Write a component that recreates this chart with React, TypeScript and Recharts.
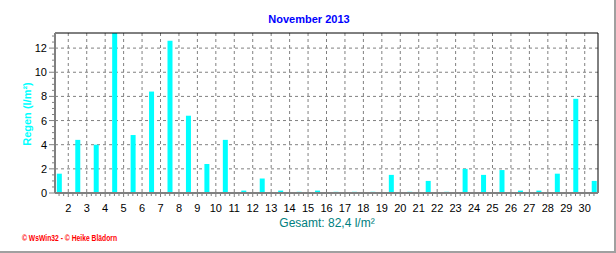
import React from "react";
import {
  BarChart,
  Bar,
  XAxis,
  YAxis,
  CartesianGrid,
  ReferenceLine,
} from "recharts";

// Niederschlag pro Tag, November 2013 (l/m²)
const days = [
  1, 2, 3, 4, 5, 6, 7, 8, 9, 10, 11, 12, 13, 14, 15,
  16, 17, 18, 19, 20, 21, 22, 23, 24, 25, 26, 27, 28, 29, 30,
];
const rain = [
  1.6, 4.4, 4.0, 13.6, 4.8, 8.4, 12.6, 6.4, 2.4, 4.4, 0.2, 1.2, 0.2, 0.1, 0.2,
  0.1, 0.1, 0.1, 1.5, 0.1, 1.0, 0.1, 2.0, 1.5, 1.9, 0.2, 0.2, 1.6, 7.8, 1.0,
];
const dayLabels = [
  2, 3, 4, 5, 6, 7, 8, 9, 10, 11, 12, 13, 14, 15, 16,
  17, 18, 19, 20, 21, 22, 23, 24, 25, 26, 27, 28, 29, 30,
];
const yLabels = [0, 2, 4, 6, 8, 10, 12];

const Y_MAX = 13.25;
const X_MIN = 0.28;
const X_MAX = 29.72;
const FONT = "'Liberation Sans', Arial, sans-serif";
const AXIS_GRAY = "#808080";

// bar sits in the middle of its day, x is counted in days since Nov 1 00:00
const data = days.map((d, i) => ({ day: d, pos: d - 0.5, rain: rain[i] }));

// label ticks at midnight of each labelled day, small ticks every 6 hours
const midnights = dayLabels.map((d) => d - 1);
const xTicks = Array.from({ length: 117 }, (_, i) => 0.5 + i * 0.25);
const yTicks = Array.from({ length: 27 }, (_, i) => i * 0.5);

function DayTick(props: any) {
  const { x, y, payload } = props;
  const v = payload.value;
  const major = midnights.includes(v);
  return (
    <g>
      <line x1={x} x2={x} y1={y} y2={y + (major ? 4 : 3)} stroke={AXIS_GRAY} />
      {major && (
        <text x={x} y={y + 19} textAnchor="middle" fontSize={11} fontFamily={FONT} fill="#000">
          {v + 1}
        </text>
      )}
    </g>
  );
}

function RainTick(props: any) {
  const { x, y, payload } = props;
  const v = payload.value;
  const major = yLabels.includes(v);
  return (
    <g>
      <line x1={x - (major ? 6 : 3)} x2={x} y1={y} y2={y} stroke={AXIS_GRAY} />
      {major && (
        <text x={x - 8} y={y} dy="0.36em" textAnchor="end" fontSize={11} fontFamily={FONT} fill="#000">
          {v}
        </text>
      )}
    </g>
  );
}

export default function App() {
  return (
    <div
      style={{
        position: "absolute",
        left: 0,
        top: 0,
        width: 616,
        height: 253,
        background: "#fff",
        boxSizing: "border-box",
        borderRight: "2px solid #a0a0a0",
        borderBottom: "2px solid #a0a0a0",
      }}
    >
      <div style={{ position: "absolute", left: 0, top: 0 }}>
        <BarChart
          width={616}
          height={253}
          data={data}
          margin={{ top: 33, right: 18, left: 0, bottom: 30 }}
        >
          <CartesianGrid
            stroke={AXIS_GRAY}
            strokeDasharray="3 3"
            horizontalValues={yLabels.filter((v) => v > 0)}
            verticalValues={midnights}
          />
          <XAxis
            dataKey="pos"
            type="number"
            domain={[X_MIN, X_MAX]}
            allowDataOverflow
            ticks={xTicks}
            interval={0}
            height={30}
            tickSize={0}
            tickMargin={0}
            tickLine={false}
            tick={<DayTick />}
            axisLine={{ stroke: AXIS_GRAY, strokeWidth: 2 }}
          />
          <YAxis
            type="number"
            domain={[0, Y_MAX]}
            allowDataOverflow
            ticks={yTicks}
            interval={0}
            width={55}
            tickSize={0}
            tickMargin={0}
            tickLine={false}
            tick={<RainTick />}
            axisLine={{ stroke: AXIS_GRAY, strokeWidth: 2 }}
          />
          <ReferenceLine y={Y_MAX} stroke="#000" ifOverflow="visible" />
          <ReferenceLine x={X_MAX} stroke="#000" ifOverflow="visible" />
          <Bar dataKey="rain" fill="#00ffff" barSize={5} isAnimationActive={false} />
        </BarChart>
      </div>
      <svg
        width={616}
        height={253}
        style={{ position: "absolute", left: 0, top: 0, pointerEvents: "none" }}
      >
        <text x={309} y={23} textAnchor="middle" fontSize={11} fontWeight="bold" fontFamily={FONT} fill="#0000ff">
          November 2013
        </text>
        <text
          transform="translate(31,114) rotate(-90)"
          textAnchor="middle"
          fontSize={11}
          fontWeight="bold"
          fontFamily={FONT}
          fill="#00ffff"
        >
          Regen  (l/m²)
        </text>
        <text x={327} y={227} textAnchor="middle" fontSize={12} fontFamily={FONT} fill="#008080">
          Gesamt: 82,4 l/m²
        </text>
        <text
          x={22}
          y={241}
          fontSize={9}
          fontWeight="bold"
          fontFamily={FONT}
          fill="#ff0000"
          textLength={95}
          lengthAdjust="spacingAndGlyphs"
        >
          © WsWin32 - © Heike Blädorn
        </text>
      </svg>
    </div>
  );
}
